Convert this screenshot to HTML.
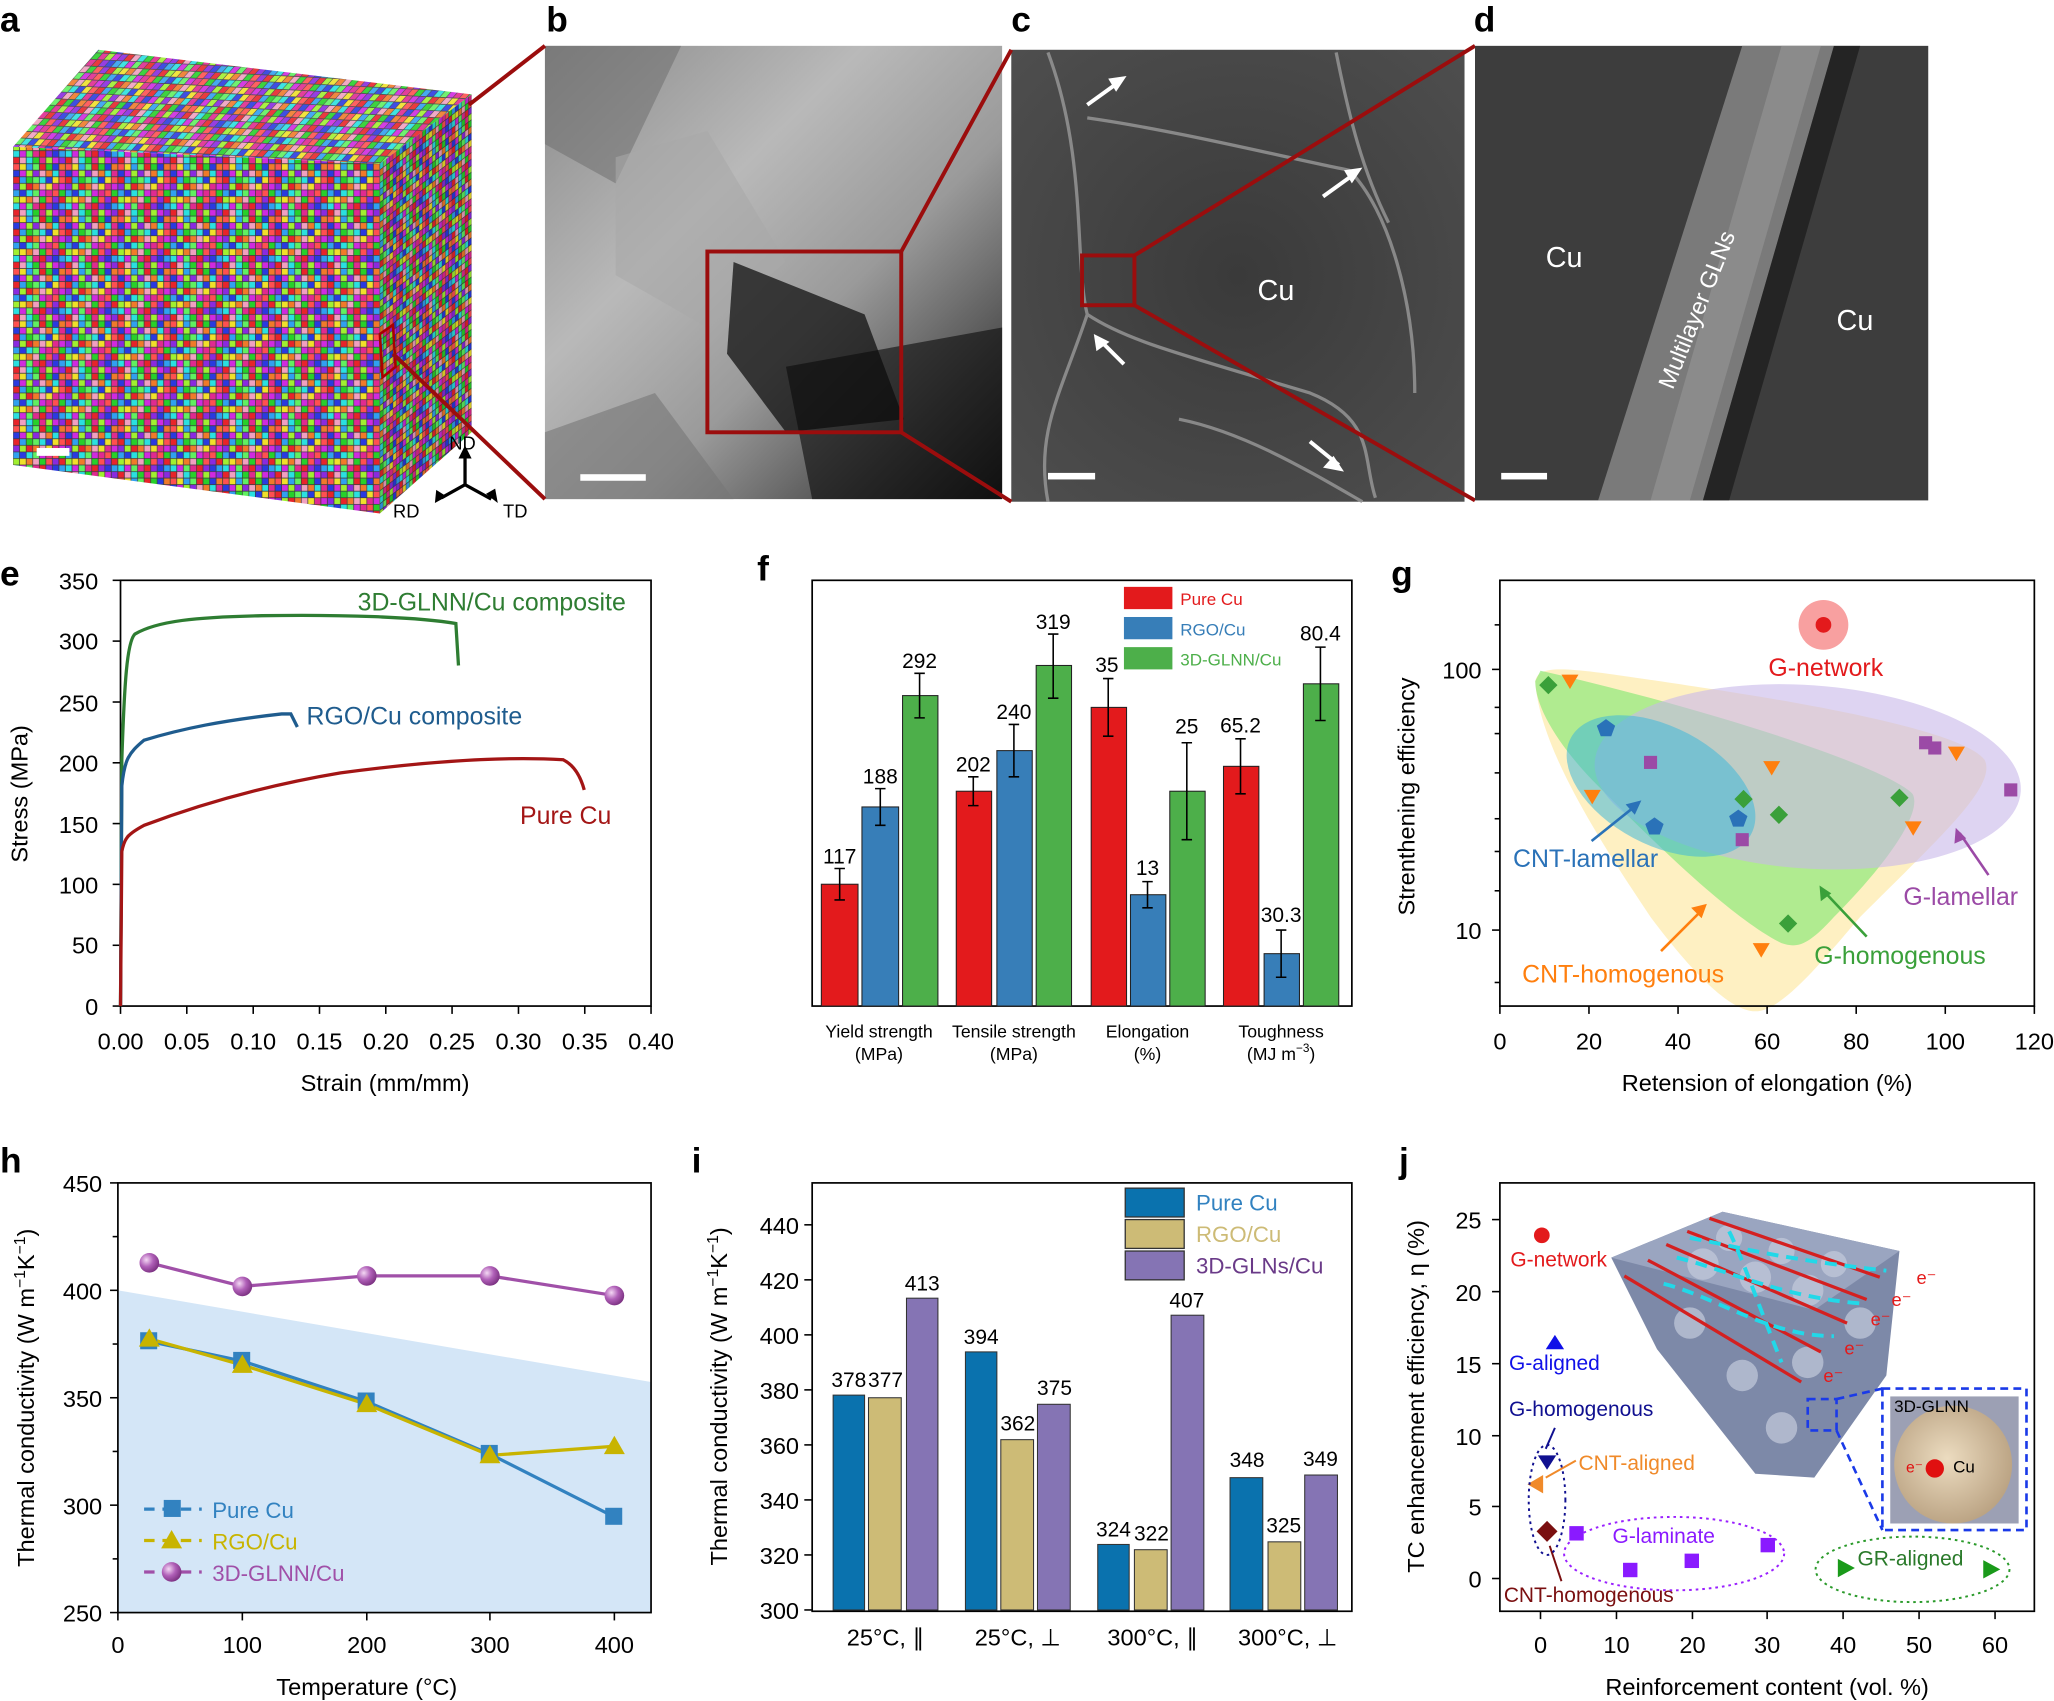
<!DOCTYPE html>
<html><head><meta charset="utf-8"><style>
html,body{margin:0;padding:0;background:#fff;}
svg{display:block;}
text{font-family:"Liberation Sans",Arial,sans-serif;}
</style></head><body>
<svg id="s" width="2054" height="1701" viewBox="0 0 1568 1298.5" preserveAspectRatio="none" xmlns="http://www.w3.org/2000/svg">
<defs>
<linearGradient id="gb" x1="0" y1="0" x2="1" y2="1"><stop offset="0" stop-color="#8a8a8a"/><stop offset="0.35" stop-color="#b9b9b9"/><stop offset="0.6" stop-color="#9a9a9a"/><stop offset="1" stop-color="#1a1a1a"/></linearGradient>
<radialGradient id="gc" cx="0.5" cy="0.5" r="0.7"><stop offset="0" stop-color="#3a3a3a"/><stop offset="1" stop-color="#4e4e4e"/></radialGradient>
<linearGradient id="gd" x1="0" y1="0" x2="1" y2="0"><stop offset="0" stop-color="#3e3e3e"/><stop offset="1" stop-color="#333"/></linearGradient>
<radialGradient id="ball" cx="0.35" cy="0.35" r="0.7"><stop offset="0" stop-color="#f4d8f4"/><stop offset="0.5" stop-color="#b060b8"/><stop offset="1" stop-color="#7a3080"/></radialGradient>
<radialGradient id="sph" cx="0.45" cy="0.45" r="0.6"><stop offset="0" stop-color="#ecdcc0"/><stop offset="1" stop-color="#b8a080"/></radialGradient>
<g id="tile" stroke="#3a3a3a" stroke-width="0.5">
<rect x="0" y="0" width="5" height="5" fill="#d02ae0"/><rect x="5" y="0" width="5" height="5" fill="#8a2ae0"/><rect x="10" y="0" width="5" height="5" fill="#e8242a"/><rect x="15" y="0" width="5" height="5" fill="#f0a0c0"/><rect x="20" y="0" width="5" height="5" fill="#2ae0e0"/><rect x="25" y="0" width="5" height="5" fill="#27d02a"/><rect x="30" y="0" width="5" height="5" fill="#e02a90"/><rect x="35" y="0" width="5" height="5" fill="#a0f030"/>
<rect x="0" y="5" width="5" height="5" fill="#2a3ae0"/><rect x="5" y="5" width="5" height="5" fill="#f07a2a"/><rect x="10" y="5" width="5" height="5" fill="#ff5050"/><rect x="15" y="5" width="5" height="5" fill="#f0e02a"/><rect x="20" y="5" width="5" height="5" fill="#30a0f0"/><rect x="25" y="5" width="5" height="5" fill="#60f060"/><rect x="30" y="5" width="5" height="5" fill="#e8242a"/><rect x="35" y="5" width="5" height="5" fill="#27d02a"/>
<rect x="0" y="10" width="5" height="5" fill="#2ae0e0"/><rect x="5" y="10" width="5" height="5" fill="#e02a90"/><rect x="10" y="10" width="5" height="5" fill="#2a3ae0"/><rect x="15" y="10" width="5" height="5" fill="#d02ae0"/><rect x="20" y="10" width="5" height="5" fill="#a0f030"/><rect x="25" y="10" width="5" height="5" fill="#8a2ae0"/><rect x="30" y="10" width="5" height="5" fill="#f0a0c0"/><rect x="35" y="10" width="5" height="5" fill="#f07a2a"/>
<rect x="0" y="15" width="5" height="5" fill="#f0e02a"/><rect x="5" y="15" width="5" height="5" fill="#ff5050"/><rect x="10" y="15" width="5" height="5" fill="#e8242a"/><rect x="15" y="15" width="5" height="5" fill="#30a0f0"/><rect x="20" y="15" width="5" height="5" fill="#27d02a"/><rect x="25" y="15" width="5" height="5" fill="#60f060"/><rect x="30" y="15" width="5" height="5" fill="#2ae0e0"/><rect x="35" y="15" width="5" height="5" fill="#2a3ae0"/>
<rect x="0" y="20" width="5" height="5" fill="#e02a90"/><rect x="5" y="20" width="5" height="5" fill="#d02ae0"/><rect x="10" y="20" width="5" height="5" fill="#8a2ae0"/><rect x="15" y="20" width="5" height="5" fill="#a0f030"/><rect x="20" y="20" width="5" height="5" fill="#e8242a"/><rect x="25" y="20" width="5" height="5" fill="#f07a2a"/><rect x="30" y="20" width="5" height="5" fill="#f0a0c0"/><rect x="35" y="20" width="5" height="5" fill="#f0e02a"/>
<rect x="0" y="25" width="5" height="5" fill="#ff5050"/><rect x="5" y="25" width="5" height="5" fill="#27d02a"/><rect x="10" y="25" width="5" height="5" fill="#30a0f0"/><rect x="15" y="25" width="5" height="5" fill="#2a3ae0"/><rect x="20" y="25" width="5" height="5" fill="#2ae0e0"/><rect x="25" y="25" width="5" height="5" fill="#60f060"/><rect x="30" y="25" width="5" height="5" fill="#d02ae0"/><rect x="35" y="25" width="5" height="5" fill="#e02a90"/>
<rect x="0" y="30" width="5" height="5" fill="#8a2ae0"/><rect x="5" y="30" width="5" height="5" fill="#e8242a"/><rect x="10" y="30" width="5" height="5" fill="#a0f030"/><rect x="15" y="30" width="5" height="5" fill="#f0e02a"/><rect x="20" y="30" width="5" height="5" fill="#f07a2a"/><rect x="25" y="30" width="5" height="5" fill="#f0a0c0"/><rect x="30" y="30" width="5" height="5" fill="#27d02a"/><rect x="35" y="30" width="5" height="5" fill="#ff5050"/>
<rect x="0" y="35" width="5" height="5" fill="#2a3ae0"/><rect x="5" y="35" width="5" height="5" fill="#30a0f0"/><rect x="10" y="35" width="5" height="5" fill="#2ae0e0"/><rect x="15" y="35" width="5" height="5" fill="#d02ae0"/><rect x="20" y="35" width="5" height="5" fill="#60f060"/><rect x="25" y="35" width="5" height="5" fill="#e02a90"/><rect x="30" y="35" width="5" height="5" fill="#e8242a"/><rect x="35" y="35" width="5" height="5" fill="#8a2ae0"/>
</g>
<pattern id="pf" patternUnits="userSpaceOnUse" width="40" height="40"><use href="#tile"/></pattern>
<pattern id="pt" patternUnits="userSpaceOnUse" width="40" height="40" patternTransform="matrix(1 0.05 0.9 -1 0 0)"><use href="#tile"/></pattern>
<pattern id="pr" patternUnits="userSpaceOnUse" width="40" height="40" patternTransform="matrix(0.5 -0.38 0 1 0 0)"><use href="#tile"/></pattern>
</defs>

<!-- panel letters -->
<g font-weight="bold" font-size="27">
<text x="0" y="24">a</text><text x="417" y="24">b</text><text x="772" y="24">c</text><text x="1125" y="24">d</text>
<text x="0" y="447">e</text><text x="578" y="443">f</text><text x="1062" y="447">g</text>
<text x="0" y="895">h</text><text x="528" y="895">i</text><text x="1068" y="895">j</text>
</g>

<!-- cube -->
<polygon points="10,112 290,125 290,392 10,355" fill="url(#pf)"/>
<polygon points="10,112 75,38 360,72 290,125" fill="url(#pt)"/>
<polygon points="290,125 360,72 360,330 290,392" fill="url(#pr)"/>
<polygon points="290,125 360,72 360,330 290,392" fill="#000" opacity="0.12"/>
<polygon points="10,112 75,38 360,72 290,125" fill="#fff" opacity="0.1"/>
<rect x="28" y="342" width="25" height="6" fill="#fff"/>
<polygon points="290,255 300,248 302,280 292,288" fill="none" stroke="#a00" stroke-width="2"/>
<g stroke="#000" stroke-width="2.5" fill="none">
<line x1="355" y1="370" x2="355" y2="348"/><line x1="355" y1="370" x2="337" y2="380"/><line x1="355" y1="370" x2="375" y2="381"/>
</g>
<polygon points="350,350 355,340 360,350" fill="#000"/>
<polygon points="332,384 333,374 341,379" fill="#000"/><polygon points="380,384 371,377 378,373" fill="#000"/>
<text x="343" y="343" font-size="14">ND</text><text x="300" y="395" font-size="14">RD</text><text x="384" y="395" font-size="14">TD</text>

<!-- panel b -->
<rect x="416" y="35" width="349" height="346" fill="url(#gb)"/>
<polygon points="416,35 520,35 470,140 416,110" fill="#6a6a6a" opacity="0.5"/>
<polygon points="470,120 540,100 600,200 540,250 470,210" fill="#a8a8a8" opacity="0.6"/>
<polygon points="560,200 660,240 690,320 600,330 555,270" fill="#111" opacity="0.75"/>
<polygon points="600,280 765,250 765,381 620,381" fill="#0a0a0a" opacity="0.6"/>
<polygon points="416,330 500,300 560,381 416,381" fill="#777" opacity="0.6"/>
<rect x="540" y="192" width="148" height="138" fill="none" stroke="#9b0d0d" stroke-width="3"/>
<rect x="443" y="362" width="50" height="5" fill="#fff"/>
<line x1="358" y1="80" x2="416" y2="35" stroke="#9b0d0d" stroke-width="3"/>
<line x1="300" y1="270" x2="416" y2="381" stroke="#9b0d0d" stroke-width="3"/>

<!-- panel c -->
<rect x="772" y="38" width="346" height="345" fill="url(#gc)"/>
<g stroke="#9a9a9a" stroke-width="2.5" fill="none" opacity="0.8">
<path d="M800,40 C830,120 820,200 830,240 C860,260 900,270 1000,300 C1050,320 1040,350 1050,380"/>
<path d="M830,240 C810,300 790,330 800,383"/><path d="M830,90 C900,100 980,120 1030,130 C1060,160 1080,230 1080,300"/>
<path d="M1020,40 C1030,90 1040,130 1060,170"/><path d="M900,320 C950,330 1000,360 1040,383"/>
</g>
<rect x="826" y="195" width="40" height="38" fill="none" stroke="#9b0d0d" stroke-width="3"/>
<line x1="688" y1="192" x2="772" y2="38" stroke="#9b0d0d" stroke-width="3"/>
<line x1="688" y1="330" x2="772" y2="383" stroke="#9b0d0d" stroke-width="3"/>
<g stroke="#fff" stroke-width="3"><line x1="830" y1="80" x2="855" y2="62"/><line x1="1010" y1="150" x2="1035" y2="132"/><line x1="858" y1="278" x2="840" y2="260"/><line x1="1022" y1="355" x2="1000" y2="337"/></g>
<g fill="#fff"><polygon points="860,58 846,60 852,70"/><polygon points="1040,128 1026,130 1032,140"/><polygon points="835,255 837,268 847,261"/><polygon points="1026,360 1010,357 1018,348"/></g>
<text x="960" y="229" font-size="22" fill="#fff">Cu</text>
<rect x="800" y="361" width="36" height="5" fill="#fff"/>
<line x1="866" y1="195" x2="1126" y2="35" stroke="#9b0d0d" stroke-width="3"/>
<line x1="866" y1="233" x2="1126" y2="382" stroke="#9b0d0d" stroke-width="3"/>

<!-- panel d -->
<rect x="1126" y="35" width="346" height="347" fill="#3d3d3d"/>
<polygon points="1330,35 1400,35 1300,382 1220,382" fill="#7a7a7a"/>
<polygon points="1360,35 1390,35 1290,382 1260,382" fill="#939393" opacity="0.7"/>
<polygon points="1400,35 1420,35 1320,382 1300,382" fill="#1a1a1a" opacity="0.7"/>
<text x="1180" y="204" font-size="22" fill="#fff">Cu</text><text x="1402" y="252" font-size="22" fill="#fff">Cu</text>
<text x="0" y="0" font-size="18" fill="#fff" transform="translate(1277,298) rotate(-68)">Multilayer GLNs</text>
<rect x="1146" y="361" width="35" height="5" fill="#fff"/>

<!-- ===== panel e ===== -->
<g font-size="18">
<rect x="92" y="443" width="405" height="325" fill="none" stroke="#000" stroke-width="1.3"/>
<g stroke="#000" stroke-width="1.2">
<line x1="92" y1="768" x2="86" y2="768"/><line x1="92" y1="721.6" x2="86" y2="721.6"/><line x1="92" y1="675.1" x2="86" y2="675.1"/><line x1="92" y1="628.7" x2="86" y2="628.7"/><line x1="92" y1="582.3" x2="86" y2="582.3"/><line x1="92" y1="535.9" x2="86" y2="535.9"/><line x1="92" y1="489.4" x2="86" y2="489.4"/><line x1="92" y1="443" x2="86" y2="443"/>
<line x1="92" y1="768" x2="92" y2="774"/><line x1="142.6" y1="768" x2="142.6" y2="774"/><line x1="193.3" y1="768" x2="193.3" y2="774"/><line x1="243.9" y1="768" x2="243.9" y2="774"/><line x1="294.5" y1="768" x2="294.5" y2="774"/><line x1="345.1" y1="768" x2="345.1" y2="774"/><line x1="395.8" y1="768" x2="395.8" y2="774"/><line x1="446.4" y1="768" x2="446.4" y2="774"/><line x1="497" y1="768" x2="497" y2="774"/>
</g>
<g text-anchor="end"><text x="75" y="775">0</text><text x="75" y="728">50</text><text x="75" y="682">100</text><text x="75" y="636">150</text><text x="75" y="589">200</text><text x="75" y="543">250</text><text x="75" y="496">300</text><text x="75" y="450">350</text></g>
<g text-anchor="middle"><text x="92" y="801">0.00</text><text x="142.6" y="801">0.05</text><text x="193.3" y="801">0.10</text><text x="243.9" y="801">0.15</text><text x="294.5" y="801">0.20</text><text x="345.1" y="801">0.25</text><text x="395.8" y="801">0.30</text><text x="446.4" y="801">0.35</text><text x="497" y="801">0.40</text></g>
<text x="294" y="833" text-anchor="middle">Strain (mm/mm)</text>
<text transform="translate(21,606) rotate(-90)" text-anchor="middle">Stress (MPa)</text>
<path d="M92,768 L93,580 C95,520 97,490 103,484 C120,474 150,471 200,470 C260,469 320,471 348,476 L350,508" fill="none" stroke="#2e7d32" stroke-width="2.5"/>
<path d="M92,768 L93,600 C95,580 98,575 110,565 C140,556 170,550 215,545 L222,545 L227,555" fill="none" stroke="#1f5c8e" stroke-width="2.5"/>
<path d="M92,768 L93,650 C95,640 97,637 110,630 C150,615 200,600 260,590 C320,582 380,577 430,580 C438,584 443,592 446,603" fill="none" stroke="#a31515" stroke-width="2.5"/>
<text x="273" y="466" fill="#2e7d32" font-size="19">3D-GLNN/Cu composite</text>
<text x="234" y="553" fill="#1f5c8e" font-size="19">RGO/Cu composite</text>
<text x="397" y="629" fill="#a31515" font-size="19">Pure Cu</text>
</g>

<!-- ===== panel f ===== -->
<g font-size="15">
<rect x="620" y="443" width="412" height="325" fill="none" stroke="#000" stroke-width="1.3"/>
<g stroke="#222" stroke-width="0.8">
<rect x="627" y="675" width="28" height="93" fill="#e31a1c"/><rect x="658" y="616" width="28" height="152" fill="#377eb8"/><rect x="689" y="531" width="27" height="237" fill="#4daf4a"/>
<rect x="730" y="604" width="27" height="164" fill="#e31a1c"/><rect x="761" y="573" width="27" height="195" fill="#377eb8"/><rect x="791" y="508" width="27" height="260" fill="#4daf4a"/>
<rect x="833" y="540" width="27" height="228" fill="#e31a1c"/><rect x="863" y="683" width="27" height="85" fill="#377eb8"/><rect x="893" y="604" width="27" height="164" fill="#4daf4a"/>
<rect x="934" y="585" width="27" height="183" fill="#e31a1c"/><rect x="965" y="728" width="27" height="40" fill="#377eb8"/><rect x="995" y="522" width="27" height="246" fill="#4daf4a"/>
</g>
<g stroke="#000" stroke-width="1.2" fill="none">
<path d="M641,663 V687 M637,663 H645 M637,687 H645"/><path d="M672,602 V630 M668,602 H676 M668,630 H676"/><path d="M702,514 V548 M698,514 H706 M698,548 H706"/>
<path d="M743,593 V615 M739,593 H747 M739,615 H747"/><path d="M774,553 V593 M770,553 H778 M770,593 H778"/><path d="M804,484 V533 M800,484 H808 M800,533 H808"/>
<path d="M846,518 V562 M842,518 H850 M842,562 H850"/><path d="M876,673 V693 M872,673 H880 M872,693 H880"/><path d="M906,567 V641 M902,567 H910 M902,641 H910"/>
<path d="M947,564 V606 M943,564 H951 M943,606 H951"/><path d="M978,710 V746 M974,710 H982 M974,746 H982"/><path d="M1008,494 V550 M1004,494 H1012 M1004,550 H1012"/>
</g>
<g text-anchor="middle" font-size="16">
<text x="641" y="659">117</text><text x="672" y="598">188</text><text x="702" y="510">292</text>
<text x="743" y="589">202</text><text x="774" y="549">240</text><text x="804" y="480">319</text>
<text x="845" y="513">35</text><text x="876" y="668">13</text><text x="906" y="560">25</text>
<text x="947" y="559">65.2</text><text x="978" y="704">30.3</text><text x="1008" y="489">80.4</text>
</g>
<rect x="858" y="448" width="37" height="17" fill="#e31a1c"/><rect x="858" y="471" width="37" height="17" fill="#377eb8"/><rect x="858" y="494" width="37" height="17" fill="#4daf4a"/>
<text x="901" y="462" fill="#e31a1c" font-size="13">Pure Cu</text><text x="901" y="485" fill="#377eb8" font-size="13">RGO/Cu</text><text x="901" y="508" fill="#4daf4a" font-size="13">3D-GLNN/Cu</text>
<g text-anchor="middle" font-size="13.5">
<text x="671" y="792">Yield strength</text><text x="671" y="809">(MPa)</text>
<text x="774" y="792">Tensile strength</text><text x="774" y="809">(MPa)</text>
<text x="876" y="792">Elongation</text><text x="876" y="809">(%)</text>
<text x="978" y="792">Toughness</text><text x="978" y="809">(MJ m<tspan dy="-6" font-size="9">−3</tspan><tspan dy="6">)</tspan></text>
</g>
</g>

<!-- ===== panel g ===== -->
<g font-size="18">
<path d="M1172,520 C1175,505 1200,510 1300,525 C1400,540 1500,560 1515,580 C1525,600 1480,640 1420,700 C1390,735 1360,772 1340,772 C1320,772 1290,740 1260,700 C1220,640 1175,570 1172,520 Z" fill="#fde9a8" opacity="0.7"/>
<path d="M1172,520 L1176,512 C1300,540 1440,585 1460,606 C1468,620 1440,660 1400,700 C1380,722 1372,724 1360,720 C1320,700 1260,640 1220,600 C1190,570 1172,540 1172,520Z" fill="#8ee87a" opacity="0.7"/>
<ellipse cx="1380" cy="593" rx="163" ry="70" transform="rotate(4 1380 593)" fill="#c8b8ea" opacity="0.6"/>
<ellipse cx="1268" cy="600" rx="78" ry="45" transform="rotate(28 1268 600)" fill="#3fb8d8" opacity="0.55"/>
<circle cx="1392" cy="477" r="19" fill="#f8a0a0"/><circle cx="1392" cy="477" r="6" fill="#e31a1c"/>
<rect x="1145" y="443" width="408" height="325" fill="none" stroke="#000" stroke-width="1.3"/>
<g stroke="#000" stroke-width="1.2">
<line x1="1145" y1="710" x2="1139" y2="710"/><line x1="1145" y1="511" x2="1139" y2="511"/>
<line x1="1145" y1="768" x2="1145" y2="774"/><line x1="1213" y1="768" x2="1213" y2="774"/><line x1="1281" y1="768" x2="1281" y2="774"/><line x1="1349" y1="768" x2="1349" y2="774"/><line x1="1417" y1="768" x2="1417" y2="774"/><line x1="1485" y1="768" x2="1485" y2="774"/><line x1="1553" y1="768" x2="1553" y2="774"/>
<line x1="1145" y1="680" x2="1141" y2="680"/><line x1="1145" y1="650" x2="1141" y2="650"/><line x1="1145" y1="625" x2="1141" y2="625"/><line x1="1145" y1="590" x2="1141" y2="590"/><line x1="1145" y1="560" x2="1141" y2="560"/><line x1="1145" y1="540" x2="1141" y2="540"/><line x1="1145" y1="750" x2="1141" y2="750"/><line x1="1145" y1="477" x2="1141" y2="477"/>
</g>
<text x="1131" y="717" text-anchor="end">10</text><text x="1131" y="518" text-anchor="end">100</text>
<g text-anchor="middle"><text x="1145" y="801">0</text><text x="1213" y="801">20</text><text x="1281" y="801">40</text><text x="1349" y="801">60</text><text x="1417" y="801">80</text><text x="1485" y="801">100</text><text x="1553" y="801">120</text></g>
<text x="1349" y="833" text-anchor="middle">Retension of elongation (%)</text>
<text transform="translate(1080,608) rotate(-90)" text-anchor="middle">Strenthening efficiency</text>
<g fill="#3aa03a"><path d="M1182,516 l7,7 -7,7 -7,-7z"/><path d="M1331,603 l7,7 -7,7 -7,-7z"/><path d="M1358,615 l7,7 -7,7 -7,-7z"/><path d="M1450,602 l7,7 -7,7 -7,-7z"/><path d="M1365,698 l7,7 -7,7 -7,-7z"/></g>
<g fill="#ff7f0e"><path d="M1192,515 h13 l-6.5,11z"/><path d="M1209,603 h13 l-6.5,11z"/><path d="M1346,581 h13 l-6.5,11z"/><path d="M1487,570 h13 l-6.5,11z"/><path d="M1454,627 h13 l-6.5,11z"/><path d="M1338,720 h13 l-6.5,11z"/></g>
<g fill="#2a72b8"><path d="M1226,549 l7,5 -3,8 h-8 l-3,-8z"/><path d="M1263,624 l7,5 -3,8 h-8 l-3,-8z"/><path d="M1327,618 l7,5 -3,8 h-8 l-3,-8z"/></g>
<g fill="#9b4aa6"><rect x="1255" y="577" width="10" height="10"/><rect x="1325" y="636" width="10" height="10"/><rect x="1465" y="562" width="10" height="10"/><rect x="1472" y="566" width="10" height="10"/><rect x="1530" y="598" width="10" height="10"/></g>
<text x="1350" y="516" fill="#e31a1c" font-size="19">G-network</text>
<text x="1155" y="662" fill="#2a72b8" font-size="19">CNT-lamellar</text>
<text x="1453" y="691" fill="#9b4aa6" font-size="19">G-lamellar</text>
<text x="1385" y="736" fill="#3aa03a" font-size="19">G-homogenous</text>
<text x="1162" y="750" fill="#ff7f0e" font-size="19">CNT-homogenous</text>
<g stroke-width="2"><line x1="1215" y1="642" x2="1250" y2="614" stroke="#2a72b8"/><line x1="1518" y1="668" x2="1496" y2="636" stroke="#9b4aa6"/><line x1="1425" y1="715" x2="1392" y2="680" stroke="#3aa03a"/><line x1="1268" y1="726" x2="1300" y2="694" stroke="#ff7f0e"/></g>
<polygon points="1253,611 1241,614 1248,622" fill="#2a72b8"/><polygon points="1493,632 1492,644 1501,640" fill="#9b4aa6"/><polygon points="1389,676 1390,688 1398,682" fill="#3aa03a"/><polygon points="1303,690 1291,693 1299,701" fill="#ff7f0e"/>
</g>

<!-- ===== panel h ===== -->
<g font-size="18">
<polygon points="90,985 497,1055 497,1231 90,1231" fill="#d4e6f7"/>
<rect x="90" y="903" width="407" height="328" fill="none" stroke="#000" stroke-width="1.3"/>
<g stroke="#000" stroke-width="1.2">
<line x1="90" y1="1231" x2="84" y2="1231"/><line x1="90" y1="1149" x2="84" y2="1149"/><line x1="90" y1="1067" x2="84" y2="1067"/><line x1="90" y1="985" x2="84" y2="985"/><line x1="90" y1="903" x2="84" y2="903"/>
<line x1="90" y1="1190" x2="86" y2="1190"/><line x1="90" y1="1108" x2="86" y2="1108"/><line x1="90" y1="1026" x2="86" y2="1026"/><line x1="90" y1="944" x2="86" y2="944"/>
<line x1="90" y1="1231" x2="90" y2="1237"/><line x1="185" y1="1231" x2="185" y2="1237"/><line x1="280" y1="1231" x2="280" y2="1237"/><line x1="374" y1="1231" x2="374" y2="1237"/><line x1="469" y1="1231" x2="469" y2="1237"/>
</g>
<g text-anchor="end"><text x="78" y="1238">250</text><text x="78" y="1156">300</text><text x="78" y="1074">350</text><text x="78" y="992">400</text><text x="78" y="910">450</text></g>
<g text-anchor="middle"><text x="90" y="1262">0</text><text x="185" y="1262">100</text><text x="280" y="1262">200</text><text x="374" y="1262">300</text><text x="469" y="1262">400</text></g>
<text x="280" y="1294" text-anchor="middle">Temperature (°C)</text>
<text transform="translate(26,1067) rotate(-90)" text-anchor="middle">Thermal conductivity (W m<tspan dy="-7" font-size="12">−1</tspan><tspan dy="7">K</tspan><tspan dy="-7" font-size="12">−1</tspan><tspan dy="7">)</tspan></text>
<polyline points="114,1024 185,1039 280,1070 374,1110 469,1158" fill="none" stroke="#3282c0" stroke-width="2.5"/>
<polyline points="114,1022 185,1042 280,1072 374,1111 469,1104" fill="none" stroke="#c8b400" stroke-width="2.5"/>
<polyline points="114,964 185,982 280,974 374,974 469,989" fill="none" stroke="#a050a8" stroke-width="2.5"/>
<g fill="#3282c0"><rect x="107" y="1017" width="13" height="13"/><rect x="178" y="1032" width="13" height="13"/><rect x="273" y="1063" width="13" height="13"/><rect x="367" y="1103" width="13" height="13"/><rect x="462" y="1151" width="13" height="13"/></g>
<g fill="#c8b400"><path d="M114,1014 l8,14 h-16z"/><path d="M185,1034 l8,14 h-16z"/><path d="M280,1064 l8,14 h-16z"/><path d="M374,1103 l8,14 h-16z"/><path d="M469,1096 l8,14 h-16z"/></g>
<g fill="url(#ball)"><circle cx="114" cy="964" r="7.5"/><circle cx="185" cy="982" r="7.5"/><circle cx="280" cy="974" r="7.5"/><circle cx="374" cy="974" r="7.5"/><circle cx="469" cy="989" r="7.5"/></g>
<line x1="110" y1="1152" x2="154" y2="1152" stroke="#3282c0" stroke-width="2.5" stroke-dasharray="8,6"/><rect x="125" y="1145" width="13" height="13" fill="#3282c0"/>
<line x1="110" y1="1176" x2="154" y2="1176" stroke="#c8b400" stroke-width="2.5" stroke-dasharray="8,6"/><path d="M131,1168 l8,14 h-16z" fill="#c8b400"/>
<line x1="110" y1="1200" x2="154" y2="1200" stroke="#a050a8" stroke-width="2.5" stroke-dasharray="8,6"/><circle cx="131" cy="1200" r="7.5" fill="url(#ball)"/>
<text x="162" y="1159" fill="#3282c0" font-size="17">Pure Cu</text><text x="162" y="1183" fill="#c8b400" font-size="17">RGO/Cu</text><text x="162" y="1207" fill="#a050a8" font-size="17">3D-GLNN/Cu</text>
</g>

<!-- ===== panel i ===== -->
<g font-size="18">
<rect x="620" y="903" width="412" height="327" fill="none" stroke="#000" stroke-width="1.3"/>
<g stroke="#000" stroke-width="1.2">
<line x1="620" y1="1229" x2="614" y2="1229"/><line x1="620" y1="1187" x2="614" y2="1187"/><line x1="620" y1="1145" x2="614" y2="1145"/><line x1="620" y1="1103" x2="614" y2="1103"/><line x1="620" y1="1061" x2="614" y2="1061"/><line x1="620" y1="1019" x2="614" y2="1019"/><line x1="620" y1="977" x2="614" y2="977"/><line x1="620" y1="935" x2="614" y2="935"/>
</g>
<g text-anchor="end"><text x="610" y="1236">300</text><text x="610" y="1194">320</text><text x="610" y="1152">340</text><text x="610" y="1110">360</text><text x="610" y="1068">380</text><text x="610" y="1026">400</text><text x="610" y="984">420</text><text x="610" y="942">440</text></g>
<text transform="translate(555,1066) rotate(-90)" text-anchor="middle">Thermal conductivity (W m<tspan dy="-7" font-size="12">−1</tspan><tspan dy="7">K</tspan><tspan dy="-7" font-size="12">−1</tspan><tspan dy="7">)</tspan></text>
<g stroke="#333" stroke-width="0.8">
<rect x="636" y="1065" width="24" height="164" fill="#0a72ae"/><rect x="663" y="1067" width="25" height="162" fill="#cdbb76"/><rect x="692" y="991" width="24" height="238" fill="#8574b4"/>
<rect x="737" y="1032" width="24" height="197" fill="#0a72ae"/><rect x="764" y="1099" width="25" height="130" fill="#cdbb76"/><rect x="792" y="1072" width="25" height="157" fill="#8574b4"/>
<rect x="838" y="1179" width="24" height="50" fill="#0a72ae"/><rect x="866" y="1183" width="25" height="46" fill="#cdbb76"/><rect x="894" y="1004" width="25" height="225" fill="#8574b4"/>
<rect x="939" y="1128" width="25" height="101" fill="#0a72ae"/><rect x="968" y="1177" width="25" height="52" fill="#cdbb76"/><rect x="996" y="1126" width="25" height="103" fill="#8574b4"/>
</g>
<g text-anchor="middle" font-size="16">
<text x="648" y="1059">378</text><text x="676" y="1059">377</text><text x="704" y="985">413</text>
<text x="749" y="1026">394</text><text x="777" y="1092">362</text><text x="805" y="1065">375</text>
<text x="850" y="1173">324</text><text x="879" y="1176">322</text><text x="906" y="998">407</text>
<text x="952" y="1120">348</text><text x="980" y="1170">325</text><text x="1008" y="1119">349</text>
</g>
<rect x="859" y="907" width="45" height="22" fill="#0a72ae" stroke="#333"/><rect x="859" y="931" width="45" height="22" fill="#cdbb76" stroke="#333"/><rect x="859" y="955" width="45" height="22" fill="#8574b4" stroke="#333"/>
<text x="913" y="924" fill="#3282c0" font-size="17">Pure Cu</text><text x="913" y="948" fill="#cdbb76" font-size="17">RGO/Cu</text><text x="913" y="972" fill="#6a3a88" font-size="17">3D-GLNs/Cu</text>
<g text-anchor="middle"><text x="676" y="1256">25°C, ∥</text><text x="777" y="1256">25°C, ⊥</text><text x="880" y="1256">300°C, ∥</text><text x="983" y="1256">300°C, ⊥</text></g>
</g>

<!-- ===== panel j ===== -->
<g font-size="18">
<rect x="1145" y="903" width="408" height="327" fill="none" stroke="#000" stroke-width="1.3"/>
<g stroke="#000" stroke-width="1.2">
<line x1="1145" y1="1205" x2="1139" y2="1205"/><line x1="1145" y1="1150" x2="1139" y2="1150"/><line x1="1145" y1="1096" x2="1139" y2="1096"/><line x1="1145" y1="1041" x2="1139" y2="1041"/><line x1="1145" y1="986" x2="1139" y2="986"/><line x1="1145" y1="931" x2="1139" y2="931"/>
<line x1="1176" y1="1230" x2="1176" y2="1236"/><line x1="1234" y1="1230" x2="1234" y2="1236"/><line x1="1292" y1="1230" x2="1292" y2="1236"/><line x1="1349" y1="1230" x2="1349" y2="1236"/><line x1="1407" y1="1230" x2="1407" y2="1236"/><line x1="1465" y1="1230" x2="1465" y2="1236"/><line x1="1523" y1="1230" x2="1523" y2="1236"/>
</g>
<g text-anchor="end"><text x="1131" y="1212">0</text><text x="1131" y="1157">5</text><text x="1131" y="1103">10</text><text x="1131" y="1048">15</text><text x="1131" y="993">20</text><text x="1131" y="938">25</text></g>
<g text-anchor="middle"><text x="1176" y="1262">0</text><text x="1234" y="1262">10</text><text x="1292" y="1262">20</text><text x="1349" y="1262">30</text><text x="1407" y="1262">40</text><text x="1465" y="1262">50</text><text x="1523" y="1262">60</text></g>
<text x="1349" y="1294" text-anchor="middle">Reinforcement content (vol. %)</text>
<text transform="translate(1087,1066) rotate(-90)" text-anchor="middle">TC enhancement efficiency, η (%)</text>
<polygon points="1230,960 1315,925 1450,955 1440,1050 1385,1128 1340,1125 1265,1030" fill="#7d89a8"/>
<polygon points="1230,960 1315,925 1450,955 1385,1000" fill="#9aa5c0"/>
<g fill="#c4cbdc" opacity="0.7"><circle cx="1300" cy="965" r="12"/><circle cx="1340" cy="975" r="12"/><circle cx="1380" cy="985" r="12"/><circle cx="1320" cy="945" r="10"/><circle cx="1360" cy="955" r="10"/><circle cx="1400" cy="965" r="10"/><circle cx="1290" cy="1010" r="12"/><circle cx="1330" cy="1050" r="12"/><circle cx="1380" cy="1040" r="12"/><circle cx="1420" cy="1010" r="12"/><circle cx="1360" cy="1090" r="12"/></g>
<g stroke="#d42020" stroke-width="2.5"><line x1="1305" y1="930" x2="1435" y2="975"/><line x1="1288" y1="940" x2="1425" y2="992"/><line x1="1272" y1="950" x2="1410" y2="1010"/><line x1="1258" y1="962" x2="1390" y2="1032"/><line x1="1240" y1="974" x2="1375" y2="1055"/></g>
<g stroke="#22d8e8" stroke-width="3" stroke-dasharray="9,6" fill="none"><path d="M1290,945 C1320,950 1350,960 1440,970"/><path d="M1280,960 C1320,970 1360,990 1420,995"/><path d="M1270,980 C1310,990 1350,1020 1400,1020"/><path d="M1320,940 C1330,960 1340,990 1360,1040"/></g>
<g fill="#e51a1a" font-size="14"><text x="1463" y="980">e⁻</text><text x="1444" y="997">e⁻</text><text x="1428" y="1012">e⁻</text><text x="1408" y="1034">e⁻</text><text x="1392" y="1055">e⁻</text></g>
<rect x="1380" y="1068" width="22" height="24" fill="none" stroke="#1a3ae8" stroke-width="2" stroke-dasharray="6,4"/>
<rect x="1437" y="1060" width="110" height="108" fill="none" stroke="#1a3ae8" stroke-width="2" stroke-dasharray="6,4"/>
<line x1="1402" y1="1068" x2="1437" y2="1060" stroke="#1a3ae8" stroke-width="2" stroke-dasharray="6,4"/><line x1="1402" y1="1092" x2="1437" y2="1168" stroke="#1a3ae8" stroke-width="2" stroke-dasharray="6,4"/>
<rect x="1443" y="1066" width="98" height="97" fill="#9ca0b4"/><circle cx="1491" cy="1118" r="45" fill="url(#sph)"/>
<circle cx="1477" cy="1121" r="7" fill="#e01010"/>
<text x="1446" y="1078" font-size="13">3D-GLNN</text><text x="1491" y="1124" font-size="13">Cu</text><text x="1455" y="1124" font-size="12" fill="#e01010">e⁻</text>
<circle cx="1177" cy="943" r="6" fill="#e31a1c"/><text x="1153" y="967" fill="#e31a1c" font-size="16">G-network</text>
<path d="M1187,1019 l7,11 h-14z" fill="#1010e8"/><text x="1152" y="1046" fill="#1010e8" font-size="16">G-aligned</text>
<text x="1152" y="1081" fill="#101090" font-size="16">G-homogenous</text>
<path d="M1174,1111 h14 l-7,11z" fill="#101090"/>
<path d="M1166,1133 l12,-7 v14z" fill="#f08a2a"/><text x="1205" y="1122" fill="#f08a2a" font-size="16">CNT-aligned</text>
<line x1="1203" y1="1115" x2="1180" y2="1128" stroke="#f08a2a" stroke-width="1.5"/>
<line x1="1187" y1="1090" x2="1180" y2="1106" stroke="#101090" stroke-width="1.5"/>
<path d="M1181,1161 l8,8 -8,8 -8,-8z" fill="#7a0f10"/>
<line x1="1183" y1="1180" x2="1192" y2="1207" stroke="#7a0f10" stroke-width="1.5"/>
<text x="1148" y="1223" fill="#7a0f10" font-size="16">CNT-homogenous</text>
<ellipse cx="1181" cy="1145" rx="14" ry="42" fill="none" stroke="#101090" stroke-width="1.5" stroke-dasharray="2,3"/>
<ellipse cx="1278" cy="1186" rx="84" ry="28" fill="none" stroke="#9a20ff" stroke-width="1.5" stroke-dasharray="2,3"/>
<g fill="#8a1aff"><rect x="1198" y="1165" width="11" height="11"/><rect x="1239" y="1193" width="11" height="11"/><rect x="1286" y="1186" width="11" height="11"/><rect x="1344" y="1174" width="11" height="11"/></g>
<text x="1231" y="1178" fill="#8a1aff" font-size="16">G-laminate</text>
<ellipse cx="1460" cy="1198" rx="74" ry="25" fill="none" stroke="#2a9a2a" stroke-width="1.5" stroke-dasharray="2,3"/>
<path d="M1403,1190 l13,7 -13,7z" fill="#1a9a1a"/><path d="M1514,1191 l13,7 -13,7z" fill="#1a9a1a"/>
<text x="1418" y="1195" fill="#2a7a2a" font-size="16">GR-aligned</text>
</g>
</svg>
</body></html>
